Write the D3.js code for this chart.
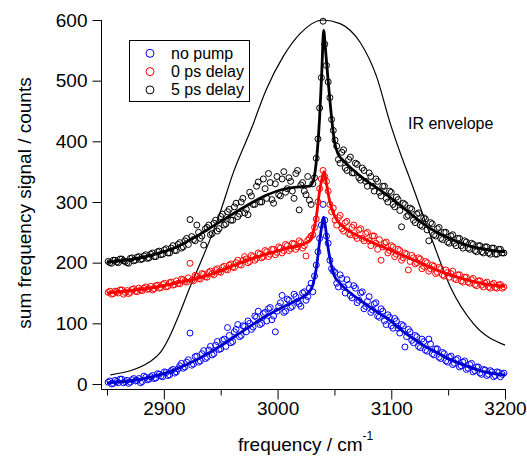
<!DOCTYPE html>
<html>
<head>
<meta charset="utf-8" />
<title>Sum frequency spectra</title>
<script src="https://d3js.org/d3.v7.min.js"></script>
<style>
  body { margin: 0; background: #fff; }
  svg text { font-family: "Liberation Sans", Arial, sans-serif; fill: #000; }
</style>
</head>
<body>
<svg id="chart" width="527" height="457"></svg>
<script>
// measured points, first sweep
var freq = [2851,2854,2857,2860,2863,2866,2869,2872,2875,2878,
  2881,2884,2887,2890,2893,2896,2899,2902,2905,2908,
  2911,2914,2917,2920,2923,2926,2929,2932,2935,2938,
  2941,2944,2947,2950,2953,2956,2959,2962,2965,2968,
  2971,2974,2977,2980,2983,2986,2989,2992,2995,2998,
  3001,3004,3007,3010,3013,3016,3019,3022,3025,3028,
  3031,3034,3037,3040,3043,3046,3049,3052,3055,3058,
  3061,3064,3067,3070,3073,3076,3079,3082,3085,3088,
  3091,3094,3097,3100,3103,3106,3109,3112,3115,3118,
  3121,3124,3127,3130,3133,3136,3139,3142,3145,3148,
  3151,3154,3157,3160,3163,3166,3169,3172,3175,3178,
  3181,3184,3187,3190,3193,3196,3199];

var noPump = [3,0,6,2,8,4,1,7,5,9,
  4,11,8,14,10,16,12,19,15,24,
  20,30,26,36,84,33,46,38,55,44,
  62,50,70,58,74,93,68,86,98,80,
  95,104,90,112,120,100,118,124,106,86,
  128,146,120,138,128,144,132,150,138,158,
  152,196,240,296,244,204,186,166,180,160,
  172,146,162,134,150,124,136,118,132,112,
  124,104,114,96,108,92,98,61,90,72,
  80,62,74,56,74,50,58,44,52,38,
  44,32,40,28,36,24,32,20,28,18,
  24,14,22,12,20,12,18];

var delay0 = [151,148,153,150,155,151,149,156,153,158,
  154,160,157,155,162,158,164,160,167,163,
  170,165,172,168,199,170,178,173,181,176,
  186,180,190,184,194,188,198,192,204,196,
  210,200,212,204,216,208,220,210,222,213,
  226,216,230,220,232,222,236,224,211,240,
  246,272,322,352,334,296,290,262,278,252,
  268,246,262,240,256,236,250,228,244,222,
  204,232,216,228,210,222,204,216,188,212,
  198,208,190,202,186,196,182,192,180,188,
  176,186,172,180,168,176,166,174,162,170,
  160,168,158,166,158,164,160];

var delay5 = [202,199,204,200,206,202,199,208,204,210,
  206,213,208,216,210,219,214,223,216,228,
  220,233,226,240,271,238,262,240,229,258,
  246,265,252,276,262,284,270,292,276,300,
  282,279,310,296,333,300,322,347,304,330,
  312,338,316,340,318,347,287,332,312,303,
  330,372,455,598,525,472,418,392,364,386,
  352,374,348,362,336,352,326,342,318,334,
  310,326,300,316,292,304,259,296,278,288,
  266,282,260,272,236,264,244,258,238,250,
  232,246,228,240,224,234,222,230,218,228,
  216,226,214,224,214,222,216];

// measured points, second sweep (interleaved)
var freqB = [2852.5,2855.5,2858.5,2861.5,2864.5,2867.5,2870.5,2873.5,2876.5,2879.5,
  2882.5,2885.5,2888.5,2891.5,2894.5,2897.5,2900.5,2903.5,2906.5,2909.5,
  2912.5,2915.5,2918.5,2921.5,2924.5,2927.5,2930.5,2933.5,2936.5,2939.5,
  2942.5,2945.5,2948.5,2951.5,2954.5,2957.5,2960.5,2963.5,2966.5,2969.5,
  2972.5,2975.5,2978.5,2981.5,2984.5,2987.5,2990.5,2993.5,2996.5,2999.5,
  3002.5,3005.5,3008.5,3011.5,3014.5,3017.5,3020.5,3023.5,3026.5,3029.5,
  3032.5,3035.5,3038.5,3041.5,3044.5,3047.5,3050.5,3053.5,3056.5,3059.5,
  3062.5,3065.5,3068.5,3071.5,3074.5,3077.5,3080.5,3083.5,3086.5,3089.5,
  3092.5,3095.5,3098.5,3101.5,3104.5,3107.5,3110.5,3113.5,3116.5,3119.5,
  3122.5,3125.5,3128.5,3131.5,3134.5,3137.5,3140.5,3143.5,3146.5,3149.5,
  3152.5,3155.5,3158.5,3161.5,3164.5,3167.5,3170.5,3173.5,3176.5,3179.5,
  3182.5,3185.5,3188.5,3191.5,3194.5,3197.5];

var noPumpB = [5,1,4,8,2,6,3,9,6,2,
  13,7,12,9,17,13,20,14,22,18,
  25,34,28,40,31,45,36,50,42,56,
  48,64,57,72,62,80,70,90,78,96,
  86,100,94,110,98,116,104,126,112,120,
  134,118,140,126,148,136,128,152,144,166,
  178,218,262,270,232,190,184,160,174,150,
  164,142,158,138,152,128,144,122,134,110,
  120,98,110,92,104,84,96,78,86,68,
  78,60,70,54,66,48,58,42,50,36,
  46,34,42,30,38,26,34,22,28,16,
  23,16,20,14,19,16];

var delay0B = [153,149,152,155,148,154,151,157,152,155,
  158,156,161,157,163,159,166,161,168,164,
  166,173,169,175,171,179,174,182,177,184,
  182,188,185,192,189,196,193,200,197,204,
  206,202,210,207,214,210,218,214,222,217,
  224,220,228,223,231,226,233,228,237,244,
  258,300,338,342,318,284,270,274,256,266,
  248,258,244,254,240,248,236,244,232,238,
  226,234,220,226,214,220,208,214,202,208,
  200,206,194,200,190,194,184,190,178,184,
  182,174,180,170,176,168,172,164,170,163,
  166,160,164,159,163,158];

var delay5B = [200,204,201,206,203,200,207,203,209,205,
  211,207,214,210,218,213,221,216,224,220,
  230,224,236,230,243,236,250,244,256,262,
  248,270,256,280,264,288,270,298,280,306,
  288,316,296,326,300,338,306,332,298,342,
  310,350,322,334,306,352,328,318,342,296,
  340,404,505,560,498,436,402,370,382,356,
  370,348,364,340,356,334,348,326,338,316,
  326,306,318,296,308,286,298,276,290,270,
  280,262,274,254,266,246,256,240,250,234,
  244,232,240,228,236,224,232,220,228,218,
  226,216,224,214,222,216];

// fitted curves
var fitFreqBlue = [2850,2870,2890,2910,2930,2950,2970,2990,3010,3020,3027,3031,3034,3037,3039,3040.5,3042,3044,3047,3050,3055,3064,3072,3081,3090,3100,3110,3120,3130,3140,3150,3160,3170,3180,3190,3200];
var fitBlue = [2,5,12,24,41,63,88,112,132,141,150,163,190,235,262,275,260,230,198,178,166,150,139,127,116,103,87,74,62,52,42,34,27,21,17,15];

var fitFreqRed = [2850,2870,2890,2910,2930,2945,2960,2975,2990,3005,3020,3028,3031,3034,3037,3039.5,3041,3043,3046,3049,3053,3058,3065,3072,3080,3090,3100,3110,3120,3130,3140,3150,3160,3170,3180,3190,3200];
var fitRed = [150,154,159,166,174,183,194,205,214,222,229,236,248,275,318,342,350,330,300,282,268,259,250,243,236,228,220,212,204,196,188,181,175,170,166,163,161];

var fitFreqBlack = [2850,2870,2890,2910,2930,2950,2970,2990,3005,3020,3028,3031,3033,3035,3037,3039,3040.5,3042,3044,3046,3048,3050,3053,3058,3064,3072,3081,3090,3100,3110,3120,3130,3140,3150,3160,3170,3180,3190,3200];
var fitBlack = [201,205,213,225,245,268,291,311,321,325,326,333,350,385,440,520,583,555,510,468,430,400,380,368,357,344,331,320,306,291,276,262,250,241,233,227,223,220,218];

// IR envelope
var irFreq = [2853,2888,2897,2905,2914,2923,2932,2941,2949,2961,2977,2990,3005,3020,3040,3055,3073,3087,3099,3109,3117,3136,3152,3172,3200];
var irVal = [15,37,52,78,117,160,199,240,280,348,421,485,540,578,600,594,562,507,430,375,335,237,160,100,64];

var xMajor = [2900, 3000, 3100, 3200];
var xMinor = [2850, 2950, 3050, 3150];
var yTicks = [0, 100, 200, 300, 400, 500, 600];

var seriesNames = ["no pump", "0 ps delay", "5 ps delay"];
var colors = ["#0000ff", "#ff0000", "#000000"];

var svg = d3.select("#chart");

var x = d3.scaleLinear().domain([2850, 3200]).range([107, 505]);
var y = d3.scaleLinear().domain([0, 600]).range([384, 20]);

var axisX = 101.5, axisY = 389.5;

// y axis
var gy = svg.append("g")
    .attr("transform", "translate(" + axisX + ",0)")
    .call(d3.axisLeft(y).tickValues(yTicks).tickSize(9).tickPadding(5).tickSizeOuter(0));
gy.select(".domain").remove();
gy.selectAll("line").attr("stroke", "#000");
gy.selectAll("text").style("font-size", "19px").attr("fill", "#000");

// x axis
var gx = svg.append("g")
    .attr("transform", "translate(0," + axisY + ")")
    .call(d3.axisBottom(x).tickValues(xMajor).tickSize(10).tickPadding(2).tickFormat(d3.format("d")));
gx.select(".domain").remove();
gx.selectAll("line").attr("stroke", "#000");
gx.selectAll("text").style("font-size", "19px").attr("fill", "#000");

var gxm = svg.append("g")
    .attr("transform", "translate(0," + axisY + ")")
    .call(d3.axisBottom(x).tickValues(xMinor).tickSize(6).tickFormat(""));
gxm.select(".domain").remove();
gxm.selectAll("line").attr("stroke", "#000");

svg.append("line")
    .attr("x1", axisX).attr("x2", axisX)
    .attr("y1", y(600)).attr("y2", axisY)
    .attr("stroke", "#000");
svg.append("line")
    .attr("x1", axisX).attr("x2", x(3200) + 1)
    .attr("y1", axisY).attr("y2", axisY)
    .attr("stroke", "#000");

// axis titles
svg.append("text")
    .attr("transform", "translate(31,203) rotate(-90)")
    .attr("text-anchor", "middle")
    .style("font-size", "19px")
    .text("sum frequency signal / counts");

var xt = svg.append("text")
    .attr("x", 238).attr("y", 451)
    .style("font-size", "19px")
    .text("frequency / cm");
xt.append("tspan")
    .attr("dy", -11)
    .style("font-size", "12px")
    .text("-1");

var line = d3.line()
    .x(function(d) { return x(d[0]); })
    .y(function(d) { return y(d[1]); })
    .curve(d3.curveMonotoneX);

// IR envelope
svg.append("path")
    .datum(d3.zip(irFreq, irVal))
    .attr("d", line)
    .attr("fill", "none")
    .attr("stroke", "#000")
    .attr("stroke-width", 1.2);

svg.append("text")
    .attr("x", 408).attr("y", 128.5)
    .style("font-size", "16px")
    .text("IR envelope");

// data points
var allData = [
    d3.zip(freq, noPump).concat(d3.zip(freqB, noPumpB)),
    d3.zip(freq, delay0).concat(d3.zip(freqB, delay0B)),
    d3.zip(freq, delay5).concat(d3.zip(freqB, delay5B))
];
allData.forEach(function(pts, i) {
    svg.append("g").selectAll("circle")
        .data(pts)
        .enter().append("circle")
        .attr("cx", function(d) { return x(d[0]); })
        .attr("cy", function(d) { return y(d[1]); })
        .attr("r", 3)
        .attr("fill", "none")
        .attr("stroke", colors[i])
        .attr("stroke-width", 1);
});

// fits
var fits = [
    d3.zip(fitFreqBlue, fitBlue),
    d3.zip(fitFreqRed, fitRed),
    d3.zip(fitFreqBlack, fitBlack)
];
var fitColors = ["#0000cc", "#ff0000", "#000000"];
fits.forEach(function(f, i) {
    svg.append("path")
        .datum(f)
        .attr("d", line)
        .attr("fill", "none")
        .attr("stroke", fitColors[i])
        .attr("stroke-width", 2.8)
        .attr("stroke-linejoin", "round");
});

// legend
var legend = svg.append("g");
legend.append("rect")
    .attr("x", 129.5).attr("y", 40.5)
    .attr("width", 120).attr("height", 61)
    .attr("fill", "#fff")
    .attr("stroke", "#000");

seriesNames.forEach(function(name, i) {
    var ly = 58.5 + i * 18.3;
    legend.append("circle")
        .attr("cx", 150).attr("cy", ly - 5.2)
        .attr("r", 4)
        .attr("fill", "none")
        .attr("stroke", colors[i]);
    legend.append("text")
        .attr("x", 171).attr("y", ly)
        .style("font-size", "16px")
        .text(name);
});
</script>
</body>
</html>
